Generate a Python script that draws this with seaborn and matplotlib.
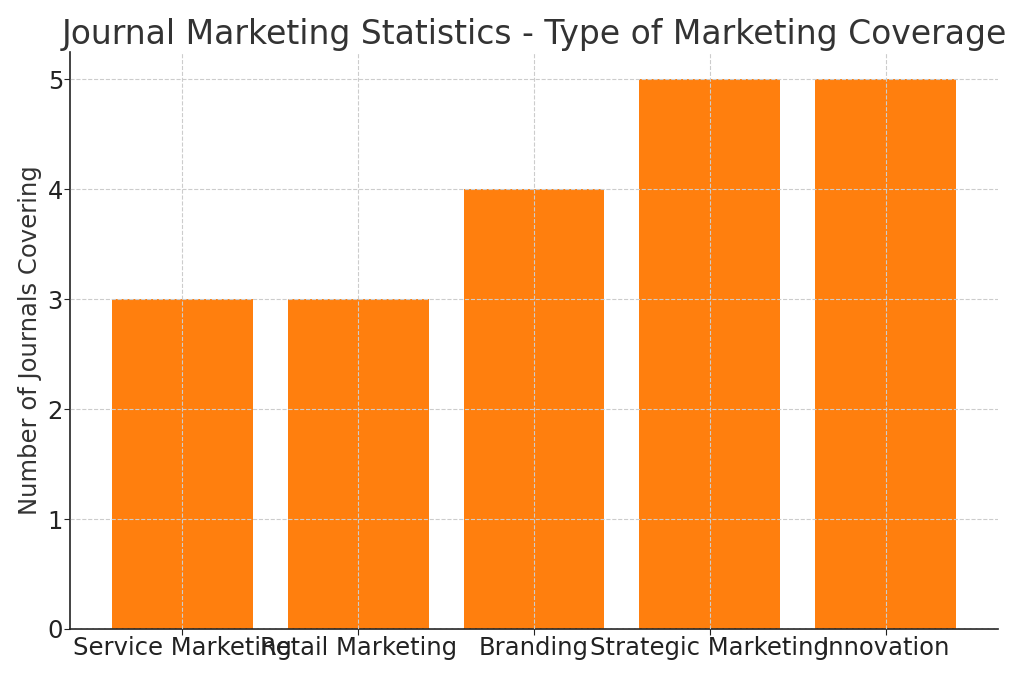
import matplotlib
matplotlib.use("Agg")
import matplotlib.pyplot as plt
import seaborn as sns
import pandas as pd

categories = ["Service Marketing", "Retail Marketing", "Branding", "Strategic Marketing", "Innovation"]
counts = [3, 3, 4, 5, 5]

sns.set_style("white")
plt.rcParams['font.family'] = ['DejaVu Sans']

df = pd.DataFrame({"Type": categories, "Count": counts})

fig = plt.figure(figsize=(10.24, 6.75), dpi=100)
ax = fig.add_axes([70/1024, 1 - 629/675, (998-70)/1024, (629-52)/675])
sns.barplot(data=df, x="Type", y="Count", color="#ff7f0e", saturation=1, width=0.8,
            linewidth=0, ax=ax)

ax.set_xlim(-0.64, 4.64)
ax.set_ylim(0, 5.25)
ax.set_axisbelow(False)
ax.grid(True, linestyle="--", color="#cccccc", linewidth=0.8)
for s in ["top", "right"]:
    ax.spines[s].set_visible(False)
for s in ["left", "bottom"]:
    ax.spines[s].set_color("#222222")
    ax.spines[s].set_linewidth(1.2)

ax.set_title("Journal Marketing Statistics - Type of Marketing Coverage", fontsize=23.8,
             color="#333333", pad=6)
ax.set_xlabel("")
ax.set_ylabel("Number of Journals Covering", fontsize=17.5, color="#333333", labelpad=4)
ax.tick_params(axis="both", labelsize=17.5, colors="#222222", length=4, left=True, bottom=True, pad=1)
ax.set_yticks([0, 1, 2, 3, 4, 5])

fig.savefig("out.png", dpi=100)
